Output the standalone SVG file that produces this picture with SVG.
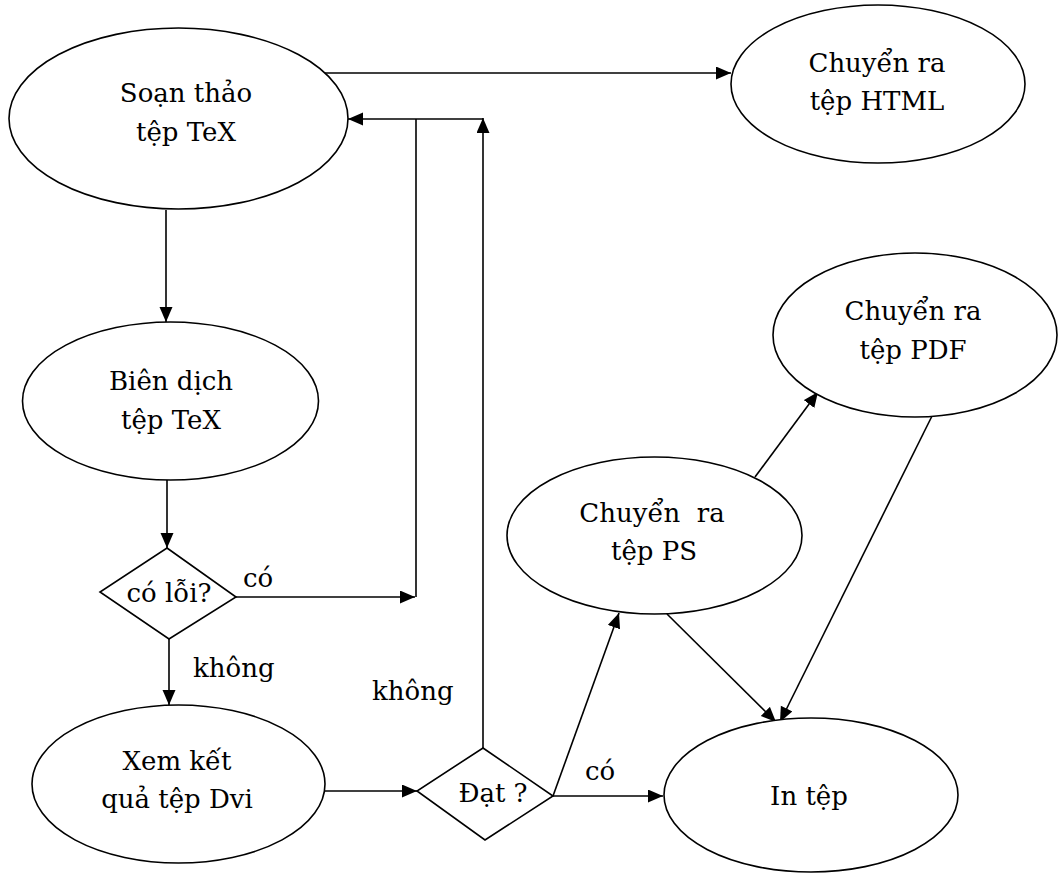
<svg xmlns="http://www.w3.org/2000/svg" width="1062" height="876" viewBox="0 0 1062 876">
<style>
.n{fill:#fff;stroke:#000;stroke-width:1.6}
.t{font-family:"DejaVu Serif","Liberation Serif",serif;font-size:26px;fill:#000}
.m{text-anchor:middle}
.c{fill:none;stroke:#000;stroke-width:1.6}
</style>
<defs>
<marker id="ah" markerUnits="userSpaceOnUse" markerWidth="16" markerHeight="14" refX="15" refY="6.5" orient="auto">
<path d="M0,0 L15,6.5 L0,13 z" fill="#000"/>
</marker>
</defs>
<rect width="1062" height="876" fill="#fff"/>
<g id="connectors">
<line class="c" x1="325" y1="73" x2="731" y2="73" marker-end="url(#ah)"/>
<line class="c" x1="166" y1="210" x2="166" y2="322" marker-end="url(#ah)"/>
<line class="c" x1="167" y1="480" x2="167" y2="548" marker-end="url(#ah)"/>
<line class="c" x1="236" y1="597" x2="415" y2="597" marker-end="url(#ah)"/>
<line class="c" x1="416" y1="597" x2="416" y2="119"/>
<line class="c" x1="483" y1="119" x2="348" y2="119" marker-end="url(#ah)"/>
<line class="c" x1="169" y1="639" x2="169" y2="705" marker-end="url(#ah)"/>
<line class="c" x1="325" y1="791" x2="417" y2="791" marker-end="url(#ah)"/>
<line class="c" x1="483" y1="748" x2="483" y2="118" marker-end="url(#ah)"/>
<line class="c" x1="553" y1="796" x2="663" y2="796" marker-end="url(#ah)"/>
<line class="c" x1="553" y1="796" x2="619" y2="613" marker-end="url(#ah)"/>
<line class="c" x1="755" y1="477" x2="818" y2="392" marker-end="url(#ah)"/>
<line class="c" x1="667" y1="614" x2="776" y2="722" marker-end="url(#ah)"/>
<line class="c" x1="932" y1="416" x2="780" y2="722" marker-end="url(#ah)"/>
<text class="t" x="243" y="587">có</text>
<text class="t" x="193" y="677">không</text>
<text class="t" x="372" y="700">không</text>
<text class="t" x="585" y="780">có</text>
</g>
<g id="soan-thao">
<ellipse class="n" cx="178.5" cy="118.5" rx="169.5" ry="90.5"/>
<text class="t m" x="186" y="102">Soạn thảo</text>
<text class="t m" x="186" y="141">tệp TeX</text>
</g>
<g id="html">
<ellipse class="n" cx="878" cy="84" rx="147" ry="79"/>
<text class="t m" x="877" y="72">Chuyển ra</text>
<text class="t m" x="877" y="110">tệp HTML</text>
</g>
<g id="bien-dich">
<ellipse class="n" cx="170.5" cy="401" rx="148" ry="79"/>
<text class="t m" x="171" y="390">Biên dịch</text>
<text class="t m" x="171" y="429">tệp TeX</text>
</g>
<g id="co-loi">
<polygon class="n" points="167,548 236,597 169,639 100,592"/>
<text class="t m" x="169" y="602">có lỗi?</text>
</g>
<g id="xem-ket-qua">
<ellipse class="n" cx="178.5" cy="784" rx="146.5" ry="79"/>
<text class="t m" x="177" y="770">Xem kết</text>
<text class="t m" x="177" y="808">quả tệp Dvi</text>
</g>
<g id="dat">
<polygon class="n" points="483,748 553,796 485,840 417,791"/>
<text class="t m" x="493" y="802">Đạt ?</text>
</g>
<g id="ps">
<ellipse class="n" cx="654.5" cy="535.5" rx="147.5" ry="78.5"/>
<text class="t m" x="652" y="522" xml:space="preserve">Chuyển  ra</text>
<text class="t m" x="654" y="560">tệp PS</text>
</g>
<g id="pdf">
<ellipse class="n" cx="915" cy="335" rx="142" ry="82"/>
<text class="t m" x="913" y="320">Chuyển ra</text>
<text class="t m" x="913" y="359">tệp PDF</text>
</g>
<g id="in-tep">
<ellipse class="n" cx="811" cy="795" rx="147" ry="77"/>
<text class="t m" x="809" y="805">In tệp</text>
</g>
</svg>
